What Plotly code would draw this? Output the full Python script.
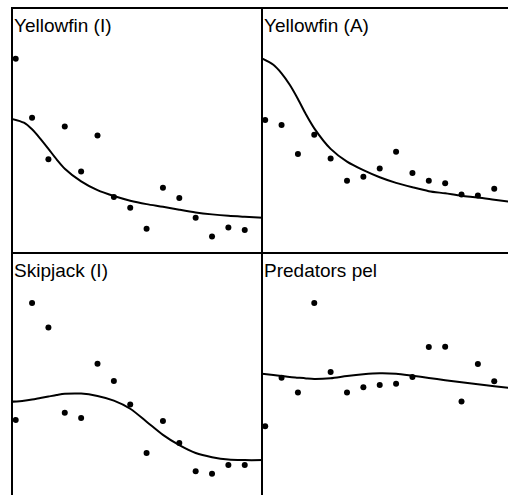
import plotly.graph_objects as go

# ---- data (years index 1..15, relative abundance) ----
years = list(range(1, 16))
curve_x = [0.8, 1.5, 2, 2.5, 3, 3.5, 4, 5, 6, 7, 8, 9, 10, 11, 12, 13, 14, 15, 16.1]

titles = ["Yellowfin (I)", "Yellowfin (A)", "Skipjack (I)", "Predators pel"]

yft_i_obs = [0.797, 0.555, 0.385, 0.519, 0.335, 0.483, 0.231, 0.187, 0.101,
             0.269, 0.227, 0.146, 0.070, 0.106, 0.096]
yft_i_fit = [0.550, 0.535, 0.508, 0.470, 0.428, 0.385, 0.347, 0.295, 0.259,
             0.235, 0.216, 0.202, 0.191, 0.179, 0.168, 0.160, 0.154, 0.150, 0.146]

yft_a_obs = [0.546, 0.526, 0.407, 0.486, 0.389, 0.298, 0.314, 0.348, 0.416,
             0.329, 0.298, 0.287, 0.241, 0.237, 0.265]
yft_a_fit = [0.798, 0.772, 0.737, 0.690, 0.632, 0.568, 0.512, 0.428, 0.376,
             0.341, 0.312, 0.289, 0.271, 0.255, 0.246, 0.236, 0.229, 0.220, 0.210]

skj_i_obs = [0.319, 0.798, 0.697, 0.349, 0.327, 0.549, 0.479, 0.382, 0.184,
             0.315, 0.225, 0.109, 0.099, 0.135, 0.135]
skj_i_fit = [0.394, 0.398, 0.403, 0.409, 0.415, 0.421, 0.426, 0.427, 0.417,
             0.398, 0.365, 0.312, 0.258, 0.216, 0.184, 0.167, 0.157, 0.155, 0.155]

pred_obs = [0.293, 0.492, 0.432, 0.798, 0.515, 0.432, 0.453, 0.462, 0.467,
            0.495, 0.618, 0.619, 0.395, 0.548, 0.477]
pred_fit = [0.508, 0.503, 0.499, 0.495, 0.492, 0.489, 0.487, 0.490, 0.499,
            0.506, 0.510, 0.508, 0.500, 0.491, 0.482, 0.473, 0.465, 0.457, 0.449]

obs = [yft_i_obs, yft_a_obs, skj_i_obs, pred_obs]
fits = [yft_i_fit, yft_a_fit, skj_i_fit, pred_fit]

# ---- layout geometry ----
W, H = 508, 495
left, mid_x, top, mid_y = 13, 262.5, 9, 253.5
xdom = [[left / W, mid_x / W], [mid_x / W, 1.0]]
ydom = [[(H - mid_y) / H, (H - top) / H], [0.0, (H - mid_y) / H]]
px_per_unit = 16.36
x_ranges = [[0.835, 0.835 + (mid_x - left) / px_per_unit],
            [0.835, 0.835 + (W - mid_x) / px_per_unit]]
panel_h = mid_y - top
y_ranges = [[0, 1], [1 - (H - mid_y) / panel_h, 1]]

fig = go.Figure()
layout = dict(width=W, height=H, margin=dict(l=0, r=0, t=0, b=0),
              paper_bgcolor="white", plot_bgcolor="white", showlegend=False,
              annotations=[])

for k in range(4):
    r, c = divmod(k, 2)
    sfx = "" if k == 0 else str(k + 1)
    xa, ya = "x" + sfx, "y" + sfx
    fig.add_trace(go.Scatter(x=curve_x, y=fits[k], mode="lines",
                             line=dict(color="black", width=2, shape="spline", smoothing=0.8),
                             xaxis=xa, yaxis=ya, hoverinfo="skip"))
    fig.add_trace(go.Scatter(x=years, y=obs[k], mode="markers",
                             marker=dict(color="black", size=6),
                             xaxis=xa, yaxis=ya, cliponaxis=True))
    layout["xaxis" + sfx] = dict(domain=xdom[c], range=x_ranges[c], anchor=ya,
                                 side="top", showline=True, linecolor="black", linewidth=2,
                                 showgrid=False, zeroline=False, showticklabels=False,
                                 ticks="", fixedrange=True)
    layout["yaxis" + sfx] = dict(domain=ydom[r], range=y_ranges[r], anchor=xa,
                                 side="left", showline=True, linecolor="black", linewidth=2,
                                 showgrid=False, zeroline=False, showticklabels=False,
                                 ticks="", fixedrange=True)
    layout["annotations"].append(dict(
        text=titles[k], xref=xa + " domain", yref=ya + " domain", x=0, y=1,
        xanchor="left", yanchor="top", showarrow=False, xshift=-1, yshift=-4,
        font=dict(family="Liberation Sans, Arial", size=19, color="black")))

fig.update_layout(**layout)
fig.write_html("out.html", config={"displayModeBar": False, "staticPlot": True},
               post_script=("document.body.style.margin='0';"
                            "document.body.style.overflow='hidden';"
                            "document.documentElement.style.overflow='hidden';"))
